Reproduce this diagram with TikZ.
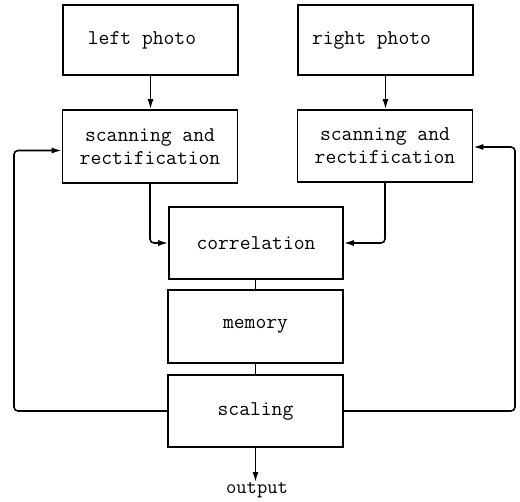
\documentclass[tikz,border=0pt]{standalone}
\usetikzlibrary{arrows.meta}
\begin{document}
\begin{tikzpicture}[x=1pt,y=-1pt,
  box/.style={draw,line width=1.6pt,minimum width=175pt,minimum height=72pt,inner sep=0pt,
    font=\ttfamily\fontsize{21}{23}\selectfont,align=center},
  lbl/.style={inner sep=0pt,font=\ttfamily\fontsize{20}{22}\selectfont},
  conn/.style={line width=1.6pt},
  arr/.style={conn,-{Latex[length=10pt,width=6pt]}}]
\useasboundingbox (0,0) rectangle (520,502);
\node[box,minimum height=70pt] (lp) at (150.5,40) {left photo\hspace*{17pt}};
\node[box,minimum height=70pt] (rp) at (385.5,40) {right photo\hspace*{28pt}};
\node[box,minimum height=73pt] (ls) at (150,146.5) {scanning and\\rectification};
\node[box] (rs) at (385,146) {scanning and\\rectification};
\node[box,minimum width=174pt] (corr) at (256,243) {correlation};
\node[box,minimum height=73pt] (mem) at (255.5,326.5) {memory};
\node[box] (scal) at (255.5,411) {scaling};
\node[lbl] (out) at (257,490) {output};
\coordinate (lf) at (14,0);
\coordinate (rf) at (515,0);

\draw[arr] (lp.south) -- (lp.south |- ls.north);
\draw[arr] (rp.south) -- (rp.south |- rs.north);
\draw[arr,rounded corners=4pt] (ls.south) |- (corr.west);
\draw[arr,rounded corners=4pt] (rs.south) |- (corr.east);
\draw[conn] (mem.north) -- (mem.north |- corr.south);
\draw[conn] (mem.south) -- (mem.south |- scal.north);
\draw[arr] (scal.south) -- (scal.south |- out.north);
\draw[arr,rounded corners=4pt] (scal.west) -- (lf |- scal.west) -- ([yshift=-4pt]lf |- ls.west) -- ([yshift=-4pt]ls.west);
\draw[arr,rounded corners=4pt] (scal.east) -- (rf |- scal.east) -- ([yshift=-1pt]rf |- rs.east) -- ([yshift=-1pt]rs.east);
\end{tikzpicture}
\end{document}
